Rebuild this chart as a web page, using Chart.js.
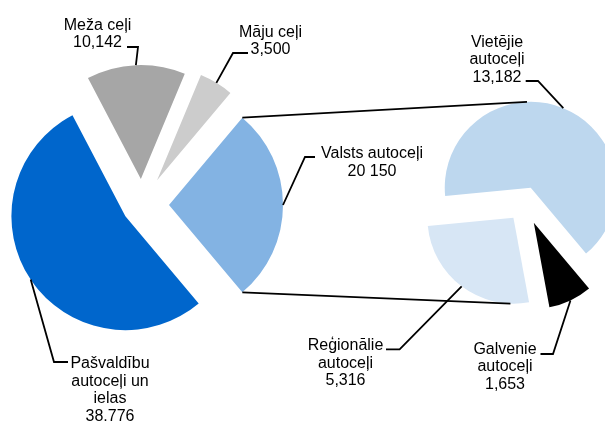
<!DOCTYPE html>
<html>
<head>
<meta charset="utf-8">
<script src="https://cdn.jsdelivr.net/npm/chart.js@4.4.1/dist/chart.umd.min.js"></script>
<style>
  html, body { margin: 0; padding: 0; background: #fff; }
  #wrap { position: relative; width: 605px; height: 423px; overflow: hidden; }
  #wrap canvas { position: absolute; left: 0; top: 0; }
</style>
</head>
<body>
<div id="wrap">
  <canvas id="mainPie" width="605" height="423"></canvas>
  <canvas id="subPie" width="605" height="423"></canvas>
</div>
<script>
// main pie - road network by owner (km)
const mainLabels = [['Valsts autoceļi'], ['Pašvaldību', 'autoceļi un', 'ielas'], ['Meža ceļi'], ['Māju ceļi']];
const mainValues = [20150, 38776, 10142, 3500];
const mainValueText = ['20 150', '38.776', '10,142', '3,500'];

// second pie - split of "Valsts autoceļi"
const subLabels = [['Galvenie', 'autoceļi'], ['Reģionālie', 'autoceļi'], ['Vietējie', 'autoceļi']];
const subValues = [1653, 5316, 13182];
const subValueText = ['1,653', '5,316', '13,182'];

const mainColors = ['#83B3E3', '#0066CC', '#A6A6A6', '#CCCCCC'];
const subColors = ['#000000', '#D7E6F5', '#BDD7EE'];

// how far each slice is pulled out (px)
const mainExplode = [27, 20, 26, 29];
const subExplode = [21.8, 18.4, 16.5];

// label boxes and leader line elbows
const mainLayout = [
  { elbow: [305, 157], end: [315, 157], x: 372, y: 158 },
  { elbow: [54, 362], end: [68, 362], x: 110, y: 368 },
  { elbow: [138, 47], end: [127, 47], x: 97.5, y: 29.5 },
  { elbow: [233, 53], end: [248, 53], x: 270.5, y: 36.7 }
];
const subLayout = [
  { elbow: [553, 354], end: [540.5, 354], x: 505, y: 353.5 },
  { elbow: [399.6, 349.3], end: [386, 349.3], x: 345.5, y: 350 },
  { elbow: [538, 81], end: [525.7, 81], x: 497, y: 46.7 }
];

const FONT = '16px "Liberation Sans", Arial, sans-serif';
const LINE_H = 17.7;

function explode(dist) {
  return {
    id: 'explode',
    afterDatasetsUpdate(chart) {
      chart.getDatasetMeta(0).data.forEach((arc, i) => {
        const mid = (arc.startAngle + arc.endAngle) / 2;
        arc.x += Math.cos(mid) * dist[i];
        arc.y += Math.sin(mid) * dist[i];
      });
    }
  };
}

function leaders(layout, valueText) {
  return {
    id: 'leaders',
    afterDraw(chart) {
      const ctx = chart.ctx;
      const arcs = chart.getDatasetMeta(0).data;
      ctx.save();
      ctx.strokeStyle = '#000';
      ctx.lineWidth = 1.8;
      ctx.fillStyle = '#000';
      ctx.font = FONT;
      ctx.textAlign = 'center';
      ctx.textBaseline = 'alphabetic';
      arcs.forEach((arc, i) => {
        const L = layout[i];
        const mid = (arc.startAngle + arc.endAngle) / 2;
        const r = arc.outerRadius;
        ctx.beginPath();
        ctx.moveTo(arc.x + Math.cos(mid) * r, arc.y + Math.sin(mid) * r);
        ctx.lineTo(L.elbow[0], L.elbow[1]);
        ctx.lineTo(L.end[0], L.end[1]);
        ctx.stroke();
        const lines = [].concat(chart.data.labels[i], valueText[i]);
        lines.forEach((t, k) => ctx.fillText(t, L.x, L.y + k * LINE_H));
      });
      ctx.restore();
    }
  };
}

const mainTotal = mainValues.reduce((a, b) => a + b, 0);

const mainChart = new Chart(document.getElementById('mainPie'), {
  type: 'pie',
  data: {
    labels: mainLabels,
    datasets: [{ data: mainValues, backgroundColor: mainColors, borderWidth: 0 }]
  },
  options: {
    responsive: false,
    animation: false,
    events: [],
    // first slice centred on 3 o'clock
    rotation: 90 - mainValues[0] / mainTotal * 180,
    radius: 114,
    layout: { padding: { left: 0, right: 321, top: 0, bottom: 13 } },
    plugins: { legend: { display: false }, tooltip: { enabled: false } }
  },
  plugins: [explode(mainExplode), leaders(mainLayout, mainValueText)]
});

// lines joining the "Valsts" slice to the second pie
const connectors = {
  id: 'connectors',
  afterDraw(chart) {
    const src = mainChart.getDatasetMeta(0).data[0];
    const sub = chart.getDatasetMeta(0).data;
    const top = sub[2], bot = sub[1];
    const deg = Math.PI / 180;
    const ctx = chart.ctx;
    ctx.save();
    ctx.strokeStyle = '#000';
    ctx.lineWidth = 1.8;
    ctx.beginPath();
    ctx.moveTo(src.x + Math.cos(src.startAngle) * src.outerRadius, src.y + Math.sin(src.startAngle) * src.outerRadius);
    ctx.lineTo(top.x + Math.cos(-92.5 * deg) * top.outerRadius, top.y + Math.sin(-92.5 * deg) * top.outerRadius);
    ctx.moveTo(src.x + Math.cos(src.endAngle) * src.outerRadius, src.y + Math.sin(src.endAngle) * src.outerRadius);
    ctx.lineTo(bot.x + Math.cos(92 * deg) * bot.outerRadius, bot.y + Math.sin(92 * deg) * bot.outerRadius);
    ctx.stroke();
    ctx.restore();
  }
};

new Chart(document.getElementById('subPie'), {
  type: 'pie',
  data: {
    labels: subLabels,
    datasets: [{ data: subValues, backgroundColor: subColors, borderWidth: 0 }]
  },
  options: {
    responsive: false,
    animation: false,
    events: [],
    rotation: 140,
    radius: 86,
    layout: { padding: { left: 444, right: 0, top: 0, bottom: 17 } },
    plugins: { legend: { display: false }, tooltip: { enabled: false } }
  },
  plugins: [explode(subExplode), leaders(subLayout, subValueText), connectors]
});
</script>
</body>
</html>
